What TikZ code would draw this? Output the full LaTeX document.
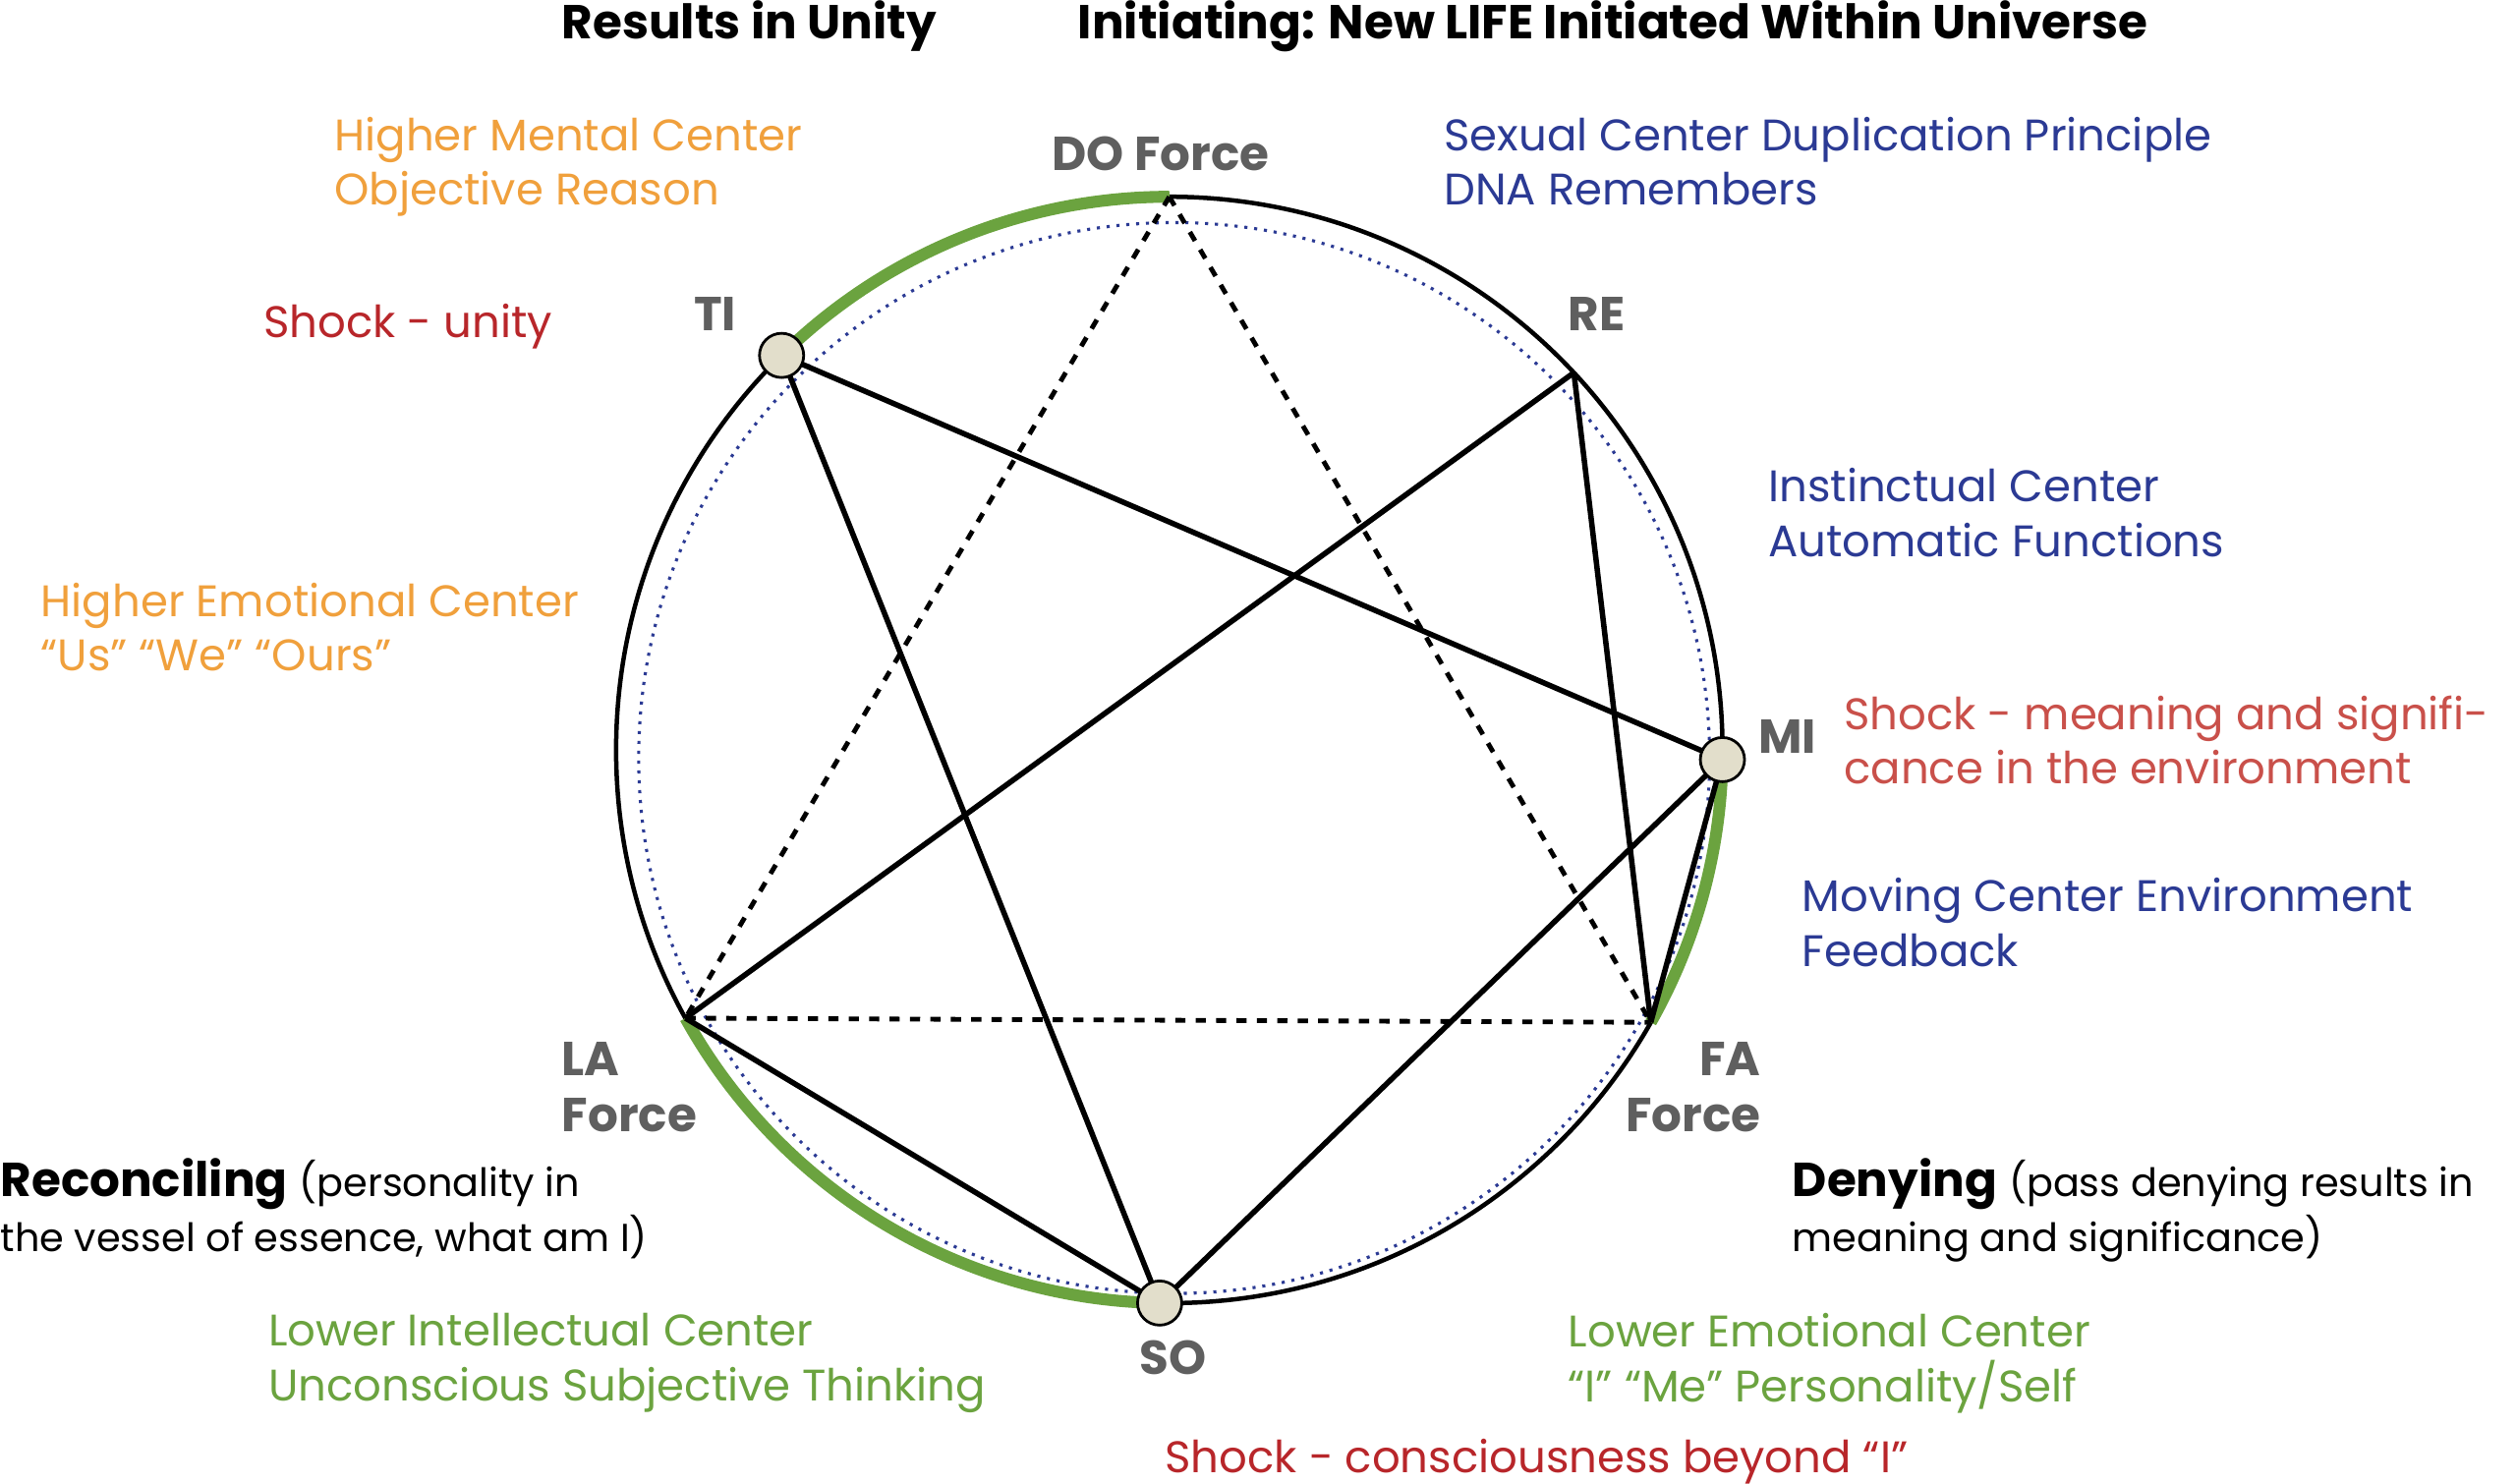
\documentclass[tikz,border=0pt]{standalone}
\usepackage{fontspec}
\setmainfont{Poppins}
\usetikzlibrary{calc}
\definecolor{orng}{HTML}{F0A03C}
\definecolor{navy}{HTML}{2B3A94}
\definecolor{shockred}{HTML}{B8262A}
\definecolor{lightred}{HTML}{C9504A}
\definecolor{leaf}{HTML}{6BA33F}
\definecolor{note}{HTML}{5F5F5F}
\definecolor{beige}{HTML}{E2DECB}
\begin{document}
\begin{tikzpicture}[x=1cm/60,y=-1cm/60,
  every node/.style={font=\fontsize{13}{16}\selectfont, align=left, inner sep=0pt},
  lbl/.style={anchor=north west},
  tone/.style={anchor=north west, font=\fontsize{14}{16.5}\selectfont\bfseries, text=note},
  dot/.style={circle, draw=black, fill=beige, minimum size=13pt, line width=0.8pt},
  chord/.style={line width=1.6pt},
  dashchord/.style={line width=1.4pt, dashed},
  arcgreen/.style={leaf, line width=3.5pt}]
\useasboundingbox (0,0) rectangle (1560,920);
\coordinate (c) at (725,465);
% outer and inner rings
\draw[line width=1.3pt] (c) circle (343);
\draw[navy, dotted, line width=0.9pt] (728,470) circle (332);
% green arcs
\draw[arcgreen] ($(c)+(-134.5:343)$) arc (-134.5:-90:343);
\draw[arcgreen] ($(c)+(1:343)$) arc (1:29.5:343);
\draw[arcgreen] ($(c)+(-209:343)$) arc (-209:-269:343);
% points on the ring
\coordinate (do) at ($(c)+(-90:343)$);
\coordinate (re) at ($(c)+(-43:343)$);
\coordinate (fa) at ($(c)+(29.5:343)$);
\coordinate (la) at ($(c)+(-209:343)$);
\coordinate (ti) at ($(c)+(-134.5:343)$);
\coordinate (mi) at ($(c)+(1:343)$);
\coordinate (so) at ($(c)+(91:343)$);
% dashed triangle
\draw[dashchord] (do) -- (la);
\draw[dashchord] (do) -- (fa);
\draw[dashchord] (la) -- (fa);
% solid figure
\draw[chord] (ti) -- (mi);
\draw[chord] (ti) -- (so);
\draw[chord] (re) -- (la);
\draw[chord] (re) -- (fa);
\draw[chord] (mi) -- (fa);
\draw[chord] (mi) -- (so);
\draw[chord] (la) -- (so);
\node[dot] (tidot) at (ti) {};
\node[dot] (midot) at (mi) {};
\node[dot] (sodot) at (so) {};
% note names
\node[tone] (dolbl) at (652,84) {DO Force};
\node[tone] (tilbl) at (430,184) {TI};
\node[tone] (relbl) at (972,184) {RE};
\node[tone] (milbl) at (1090,446) {MI};
\node[tone] (lalbl) at (348,646) {LA\\Force};
\node[tone, anchor=north east, align=right] (falbl) at (1092,646) {FA\\Force};
\node[tone] (solbl) at (706,831) {SO};
% labels
\node[lbl, font=\fontsize{14}{16}\selectfont\bfseries] (unity) at (348,0) {Results in Unity};
\node[lbl, font=\fontsize{14}{16}\selectfont\bfseries] (init) at (668,0) {Initiating: New LIFE Initiated Within Universe};
\node[lbl, text=orng] (mental) at (207,72) {Higher Mental Center\\Objective Reason};
\node[lbl, text=navy] (sexual) at (895,72) {Sexual Center Duplication Principle\\DNA Remembers};
\node[lbl, text=shockred] (shockunity) at (163,188) {Shock - unity};
\node[lbl, text=navy] (instinct) at (1096,290) {Instinctual Center\\Automatic Functions};
\node[lbl, text=orng] (emotional) at (25,361) {Higher Emotional Center\\“Us” “We” “Ours”};
\node[lbl, text=lightred] (shockmean) at (1143,431) {Shock - meaning and signifi-\\cance in the environment};
\node[lbl, text=navy] (moving) at (1117,544) {Moving Center Environment\\Feedback};
\node[lbl] (recon) at (0,718) {{\fontsize{14}{16}\selectfont\bfseries Reconciling} {\fontsize{11.5}{16}\selectfont(personality in}\\{\fontsize{11.5}{16}\selectfont the vessel of essence, what am I)}};
\node[lbl] (deny) at (1111,718) {{\fontsize{14}{16}\selectfont\bfseries Denying} {\fontsize{11.5}{16}\selectfont(pass denying results in}\\{\fontsize{11.5}{16}\selectfont meaning and significance)}};
\node[lbl, text=leaf] (lowint) at (166,814) {Lower Intellectual Center\\Unconscious Subjective Thinking};
\node[lbl, text=leaf] (lowemo) at (972,814) {Lower Emotional Center\\“I” “Me” Personality/Self};
\node[lbl, text=shockred] (shockcons) at (722,892) {Shock - consciousness beyond “I”};
\end{tikzpicture}
\end{document}
